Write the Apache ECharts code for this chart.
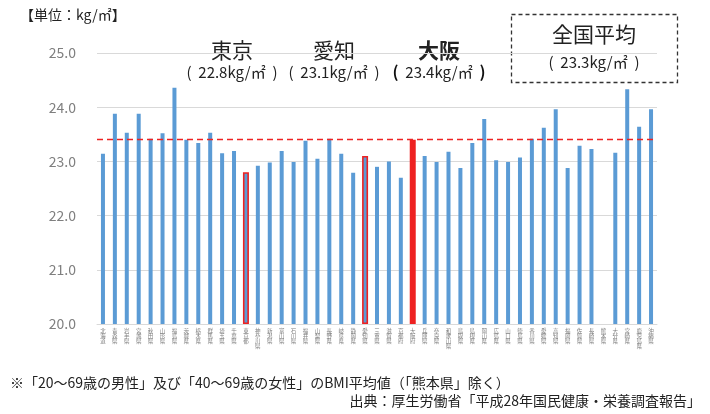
<!DOCTYPE html>
<html>
<head>
<meta charset="utf-8">
<script src="https://cdn.jsdelivr.net/npm/echarts@6/dist/echarts.min.js"></script>
<style>
  html, body { margin: 0; padding: 0; background: #fff; }
  #chart { width: 710px; height: 414px; }
</style>
</head>
<body>
<div id="chart"></div>
<script>
// 都道府県別 BMI 平均値（kg/㎡）
const prefectures = [
  '北海道', '青森県', '岩手県', '宮城県', '秋田県', '山形県', '福島県',
  '茨城県', '栃木県', '群馬県', '埼玉県', '千葉県', '東京都', '神奈川県',
  '新潟県', '富山県', '石川県', '福井県', '山梨県', '長野県', '岐阜県',
  '静岡県', '愛知県', '三重県', '滋賀県', '京都府', '大阪府', '兵庫県',
  '奈良県', '和歌山県', '鳥取県', '島根県', '岡山県', '広島県', '山口県',
  '徳島県', '香川県', '愛媛県', '高知県', '福岡県', '佐賀県', '長崎県',
  '熊本県', '大分県', '宮崎県', '鹿児島県', '沖縄県'
];
const bmi = [
  23.14, 23.88, 23.53, 23.88, 23.42, 23.52, 24.36,
  23.40, 23.34, 23.53, 23.15, 23.19, 22.8, 22.92,
  22.98, 23.19, 22.99, 23.38, 23.05, 23.42, 23.14,
  22.79, 23.1, 22.90, 23.00, 22.70, 23.4, 23.10,
  22.99, 23.18, 22.88, 23.34, 23.78, 23.02, 22.99,
  23.07, 23.42, 23.62, 23.96, 22.88, 23.29, 23.23,
  null, 23.16, 24.33, 23.64, 23.96
];
const nationalAverage = 23.3;
const yTicks = { min: 20, max: 25, step: 1 };

// 強調する府県（見出しの表示名と対応）
const outlined = [['東京都', '東京'], ['愛知県', '愛知']];
const featured = ['大阪府', '大阪'];

const BLUE = '#5b9bd5';
const RED = '#ee2222';
const FONT = '"Noto Sans CJK JP", "Noto Sans", sans-serif';

const valueOf = name => bmi[prefectures.indexOf(name)];
const fmt = v => '(  ' + v.toFixed(1) + 'kg/㎡  )';
const fmtRich = v => '{p|(}  ' + v.toFixed(1) + 'kg/㎡  {p|)}';
const outlinedNames = outlined.map(p => p[0]);
const isHighlighted = name => name === featured[0] || outlinedNames.includes(name);

// 通常の棒
const plainData = prefectures.map((name, i) =>
  (bmi[i] === null || isHighlighted(name)) ? '-' : bmi[i]);

// 強調する棒 [カテゴリ番号, 値]
const highlightData = prefectures
  .map((name, i) => [i, bmi[i], name])
  .filter(d => isHighlighted(d[2]))
  .map(d => [d[0], d[1]]);

const chart = echarts.init(document.getElementById('chart'), null, { renderer: 'canvas' });

// 見出し（府県名と値）
const headCenters = [232, 334, 439];
const headItems = [outlined[0], outlined[1], featured];
const headings = [];
headItems.forEach((p, k) => {
  const bold = p === featured;
  headings.push({
    type: 'text', x: headCenters[k], y: 50,
    style: { text: p[1], fill: '#222', font: (bold ? 'bold ' : '') + '21px ' + FONT,
             textAlign: 'center', textVerticalAlign: 'middle' }
  });
  headings.push({
    type: 'text', x: headCenters[k], y: 72,
    style: bold
      ? { text: fmtRich(valueOf(p[0])), fill: '#222', font: '15px ' + FONT,
          rich: { p: { fontWeight: 'bold', fontSize: 16, fontFamily: FONT, fill: '#111' } },
          textAlign: 'center', textVerticalAlign: 'middle' }
      : { text: fmt(valueOf(p[0])), fill: '#222', font: '15px ' + FONT,
          textAlign: 'center', textVerticalAlign: 'middle' }
  });
});

chart.setOption({
  animation: false,
  backgroundColor: '#fff',
  grid: { left: 97, right: 53, top: 53, bottom: 90 },
  xAxis: {
    type: 'category',
    data: prefectures,
    axisLine: { show: true, lineStyle: { color: '#d9d9d9', width: 1 } },
    axisTick: { show: false },
    axisLabel: {
      interval: 0,
      margin: 4,
      color: '#7f7f7f',
      fontSize: 5.5,
      lineHeight: 5.2,
      fontFamily: FONT,
      verticalAlign: 'top',
      formatter: v => v.split('').join('\n')
    }
  },
  yAxis: {
    type: 'value',
    min: yTicks.min,
    max: yTicks.max,
    interval: yTicks.step,
    axisLine: { show: false },
    axisTick: { show: false },
    splitLine: { lineStyle: { color: '#d9d9d9', width: 1 } },
    axisLabel: {
      margin: 21,
      color: '#7f7f7f',
      fontSize: 14,
      fontFamily: FONT,
      formatter: v => v.toFixed(1)
    }
  },
  series: [
    {
      type: 'bar',
      data: plainData,
      barWidth: 4,
      itemStyle: { color: BLUE },
      markLine: {
        symbol: 'none',
        silent: true,
        label: { show: false },
        lineStyle: { color: RED, type: [6, 4], width: 1.3 },
        data: [{ yAxis: valueOf(featured[0]) }]
      },
      z: 2
    },
    {
      type: 'custom',
      data: highlightData,
      encode: { x: 0, y: 1 },
      z: 2,
      renderItem: (params, api) => {
        const idx = api.value(0);
        const top = api.coord([idx, api.value(1)]);
        const base = api.coord([idx, yTicks.min]);
        const name = prefectures[idx];
        const w = 6;
        if (name === featured[0]) {
          return {
            type: 'rect',
            shape: { x: top[0] - w / 2, y: top[1], width: w, height: base[1] - top[1] },
            style: { fill: RED }
          };
        }
        const lw = 1.6;
        return {
          type: 'rect',
          shape: { x: top[0] - w / 2 + lw / 2, y: top[1] + lw / 2,
                   width: w - lw, height: base[1] - top[1] - lw },
          style: { fill: BLUE, stroke: RED, lineWidth: lw }
        };
      }
    }
  ],
  graphic: [
    {
      type: 'text', x: 20, y: 15,
      style: { text: '【単位：kg/㎡】', fill: '#222', font: '14px ' + FONT,
               textVerticalAlign: 'middle' }
    },
    ...headings,
    {
      type: 'rect',
      shape: { x: 511.5, y: 14.5, width: 166, height: 68 },
      style: { fill: 'none', stroke: '#333', lineWidth: 1.3, lineDash: [4, 3] }
    },
    {
      type: 'text', x: 594, y: 34,
      style: { text: '全国平均', fill: '#222', font: '21px ' + FONT,
               textAlign: 'center', textVerticalAlign: 'middle' }
    },
    {
      type: 'text', x: 594, y: 62,
      style: { text: fmt(nationalAverage), fill: '#222', font: '15px ' + FONT,
               textAlign: 'center', textVerticalAlign: 'middle' }
    },
    {
      type: 'text', x: 10, y: 383,
      style: { text: '※「20～69歳の男性」及び「40～69歳の女性」のBMI平均値（「熊本県」除く）',
               fill: '#222', font: '14px ' + FONT, textVerticalAlign: 'middle' }
    },
    {
      type: 'text', x: 701, y: 401,
      style: { text: '出典：厚生労働省「平成28年国民健康・栄養調査報告」',
               fill: '#222', font: '14px ' + FONT, textAlign: 'right', textVerticalAlign: 'middle' }
    }
  ]
});
</script>
</body>
</html>
